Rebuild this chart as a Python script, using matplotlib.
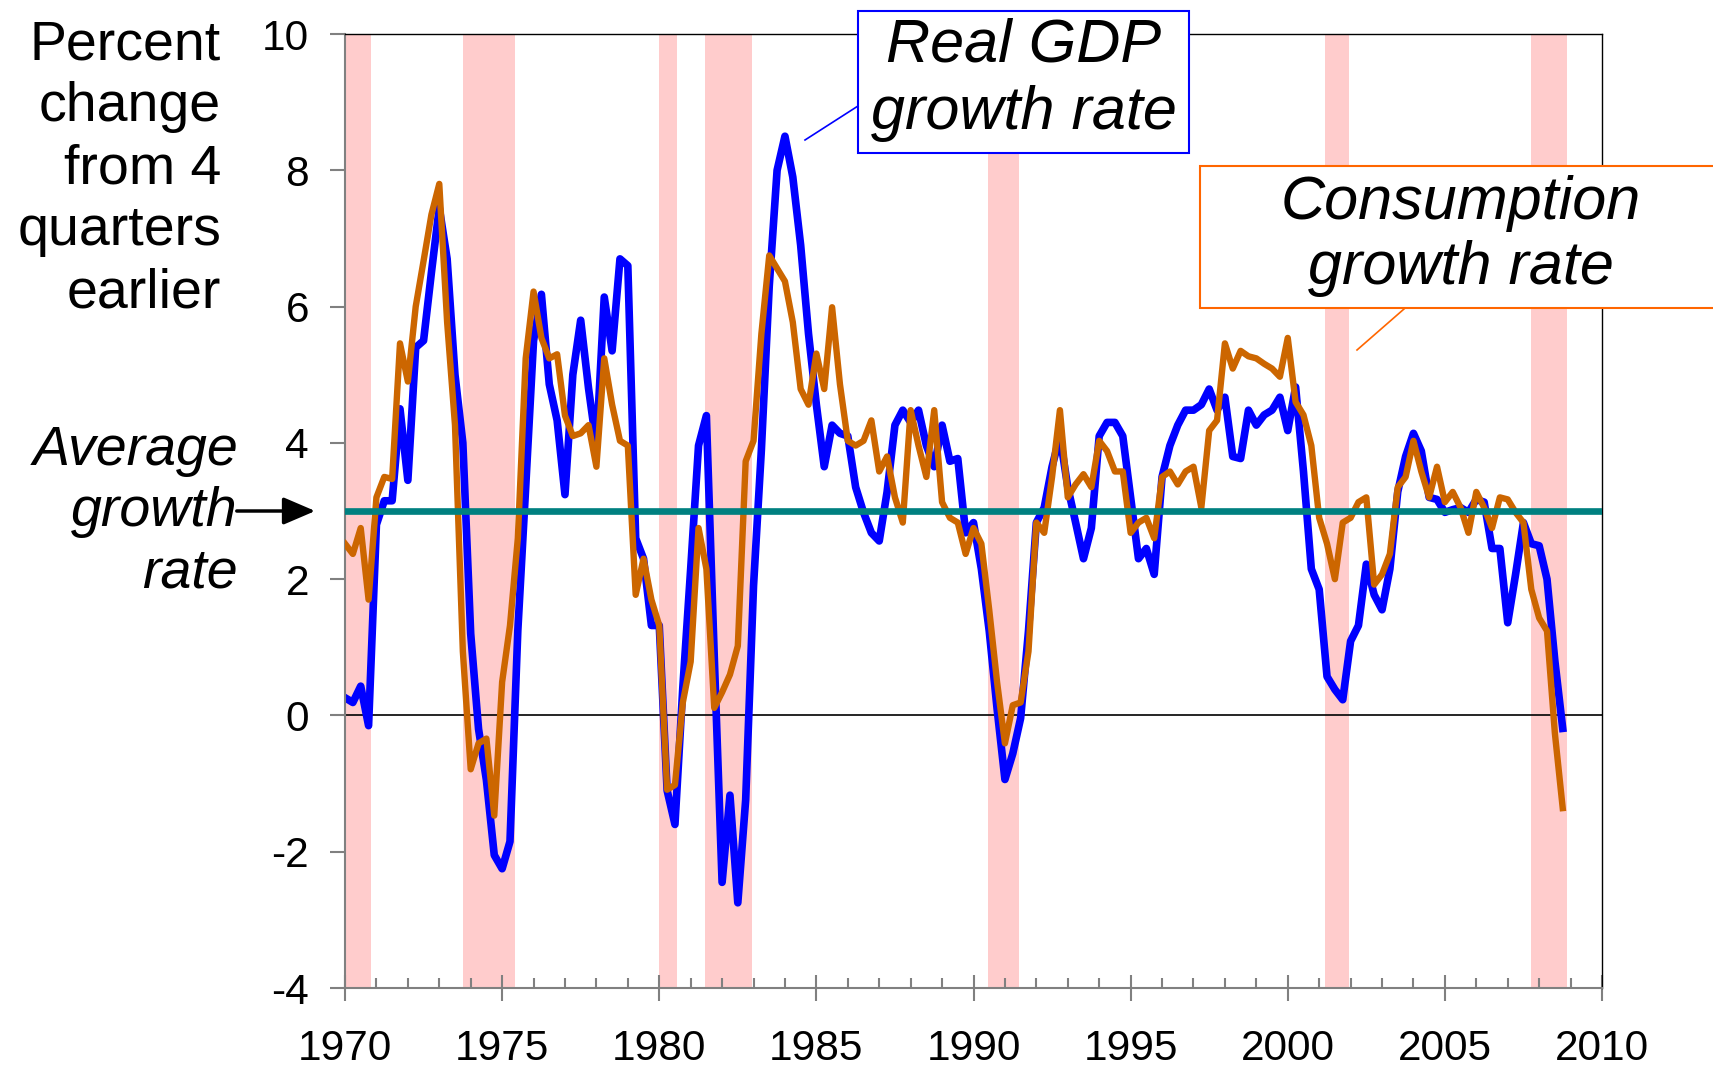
import numpy as np
import matplotlib.pyplot as plt
from matplotlib.patches import Rectangle, FancyArrowPatch
from matplotlib.lines import Line2D
from matplotlib.ticker import MultipleLocator

plt.rcParams['font.family'] = ['Liberation Sans', 'DejaVu Sans']
plt.rcParams['axes.unicode_minus'] = False

# quarterly data, 1970Q1 .. 2008Q4, percent change from 4 quarters earlier
start_year = 1970
gdp_growth = [
    0.26, 0.19, 0.43, -0.15, 2.8, 3.15, 3.15, 4.5, 3.45, 5.4, 5.5, 6.5,
    7.45, 6.7, 5.0, 4.0, 1.2, -0.2, -0.95, -2.05, -2.25, -1.85, 1.25, 3.35,
    5.5, 6.18, 4.86, 4.33, 3.24, 5.0, 5.8, 4.8, 3.96, 6.14, 5.35, 6.7,
    6.6, 2.6, 2.3, 1.32, 1.32, -1.1, -1.6, 0.41, 2.15, 3.96, 4.4, 0.87,
    -2.45, -1.17, -2.75, -1.24, 1.9, 3.9, 6.3, 8.0, 8.5, 7.9, 6.9, 5.6,
    4.56, 3.65, 4.26, 4.14, 4.1, 3.35, 2.98, 2.68, 2.56, 3.28, 4.26, 4.48,
    4.3, 4.48, 3.96, 3.65, 4.26, 3.73, 3.77, 2.68, 2.83, 2.15, 1.24, 0.1,
    -0.94, -0.56, -0.04, 1.24, 2.83, 3.05, 3.65, 4.1, 3.35, 2.83, 2.3, 2.75,
    4.1, 4.3, 4.3, 4.1, 3.2, 2.3, 2.45, 2.07, 3.5, 3.96, 4.26, 4.48,
    4.48, 4.56, 4.79, 4.48, 4.67, 3.8, 3.77, 4.48, 4.26, 4.41, 4.48, 4.67,
    4.18, 4.82, 3.58, 2.15, 1.85, 0.57, 0.38, 0.23, 1.09, 1.32, 2.22, 1.77,
    1.55, 2.15, 3.28, 3.8, 4.14, 3.88, 3.2, 3.17, 2.98, 3.02, 3.05, 2.98,
    3.17, 3.13, 2.45, 2.45, 1.36, 2.07, 2.83, 2.52, 2.49, 2.0, 0.8, -0.19,
]
consumption_growth = [
    2.52, 2.37, 2.75, 1.7, 3.2, 3.5, 3.47, 5.46, 4.9, 6.0, 6.67, 7.35,
    7.8, 5.77, 4.26, 0.94, -0.79, -0.41, -0.34, -1.47, 0.49, 1.32, 2.6, 5.24,
    6.22, 5.54, 5.24, 5.3, 4.4, 4.1, 4.14, 4.26, 3.65, 5.24, 4.56, 4.03,
    3.96, 1.77, 2.3, 1.7, 1.32, -1.09, -1.02, 0.19, 0.79, 2.75, 2.15, 0.11,
    0.34, 0.6, 1.02, 3.73, 4.03, 5.6, 6.75, 6.56, 6.37, 5.77, 4.79, 4.56,
    5.31, 4.79, 5.99, 4.86, 4.03, 3.96, 4.03, 4.33, 3.58, 3.8, 3.2, 2.83,
    4.48, 3.96, 3.5, 4.48, 3.13, 2.9, 2.83, 2.37, 2.75, 2.52, 1.55, 0.49,
    -0.41, 0.15, 0.19, 0.94, 2.83, 2.68, 3.5, 4.48, 3.2, 3.39, 3.54, 3.35,
    4.03, 3.88, 3.58, 3.58, 2.68, 2.83, 2.9, 2.6, 3.5, 3.58, 3.39, 3.58,
    3.65, 3.05, 4.18, 4.33, 5.46, 5.09, 5.35, 5.27, 5.24, 5.16, 5.09, 4.97,
    5.54, 4.6, 4.41, 3.96, 2.9, 2.52, 2.0, 2.83, 2.9, 3.13, 3.2, 1.92,
    2.07, 2.37, 3.35, 3.5, 4.03, 3.58, 3.2, 3.65, 3.13, 3.28, 3.05, 2.68,
    3.28, 3.05, 2.75, 3.2, 3.17, 2.98, 2.83, 1.85, 1.43, 1.24, -0.26, -1.36,
]
average_growth = 3.0

# recessions (shaded)
recessions = [(1970.0, 1970.83), (1973.76, 1975.4), (1980.0, 1980.55),
              (1981.45, 1982.95), (1990.45, 1991.45), (2001.2, 2001.95),
              (2007.75, 2008.9)]

ylabel_lines = ['Percent', 'change', 'from 4', 'quarters', 'earlier']
avg_lines = ['Average', 'growth', 'rate']

dates = start_year + np.arange(len(gdp_growth)) / 4.0

W, H = 1713, 1068
fig = plt.figure(figsize=(W / 100, H / 100), dpi=100)


def fx(px):
    return px / W


def fy(py):
    return 1 - py / H


ax = fig.add_axes([fx(345), fy(988), fx(1602) - fx(345), fy(34) - fy(988)])

for s, e in recessions:
    ax.axvspan(s, e, color='#FFCCCC', lw=0, zorder=0)
ax.axhline(0, color='black', lw=1.2, zorder=1)
ax.plot(dates, gdp_growth, color='#0000FF', lw=5.5, zorder=2,
        solid_joinstyle='round')
ax.plot(dates, consumption_growth, color='#CC6600', lw=4.6, zorder=3,
        solid_joinstyle='round')
ax.axhline(average_growth, color='#008080', lw=4.8, zorder=4)

ax.set_xlim(1970, 2010)
ax.set_ylim(-4, 10)
ax.set_yticks(range(-4, 11, 2))
ax.set_xticks(range(1970, 2011, 5))
ax.xaxis.set_minor_locator(MultipleLocator(1))

ax.tick_params(axis='y', direction='out', length=11, width=1.5,
               color='#808080', labelsize=30.5, pad=15)
ax.tick_params(axis='x', which='major', direction='inout', length=19,
               width=1.5, color='#808080', labelsize=30.5, pad=20)
ax.tick_params(axis='x', which='minor', direction='in', length=7,
               width=1.5, color='#808080')

for side in ['left', 'bottom']:
    ax.spines[side].set_color('#808080')
    ax.spines[side].set_linewidth(1.5)
for side in ['top', 'right']:
    ax.spines[side].set_color('black')
    ax.spines[side].set_linewidth(1.0)

# y-axis caption
for k, line in enumerate(ylabel_lines):
    fig.text(fx(221), fy(59 + 62 * k), line, ha='right', va='baseline',
             fontsize=40)

# average growth label + arrow
for k, line in enumerate(avg_lines):
    fig.text(fx(238), fy(465 + 61 * k), line, ha='right', va='baseline',
             fontsize=40, style='italic')
fig.add_artist(FancyArrowPatch((fx(234), fy(511)), (fx(318), fy(511)),
                               transform=fig.transFigure,
                               arrowstyle='-|>,head_length=1.4,head_width=0.6',
                               mutation_scale=14, color='black', lw=2.5))

# Real GDP callout
fig.add_artist(Rectangle((fx(858), fy(153)), fx(1189) - fx(858), fy(11) - fy(153),
                         transform=fig.transFigure, facecolor='white',
                         edgecolor='#0000FF', lw=1.5))
fig.add_artist(Line2D([fx(805), fx(858)], [fy(140), fy(106)],
                      transform=fig.transFigure, color='#0000FF', lw=1.2))
fig.text(fx(1024), fy(62), 'Real GDP', ha='center', va='baseline',
         fontsize=44, style='italic')
fig.text(fx(1024), fy(129), 'growth rate', ha='center', va='baseline',
         fontsize=44, style='italic')

# Consumption callout
fig.add_artist(Rectangle((fx(1200), fy(308)), fx(1760) - fx(1200), fy(166) - fy(308),
                         transform=fig.transFigure, facecolor='white',
                         edgecolor='#FF6600', lw=1.5))
fig.add_artist(Line2D([fx(1357), fx(1404)], [fy(350), fy(309)],
                      transform=fig.transFigure, color='#FF6600', lw=1.2))
fig.text(fx(1461), fy(219), 'Consumption', ha='center', va='baseline',
         fontsize=44, style='italic')
fig.text(fx(1461), fy(284), 'growth rate', ha='center', va='baseline',
         fontsize=44, style='italic')

fig.savefig('out.png', dpi=100)
